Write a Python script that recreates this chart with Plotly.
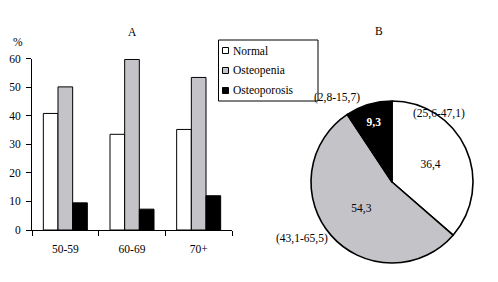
import plotly.graph_objects as go

# ---- data ----
age_groups = ["50-59", "60-69", "70+"]
series_names = ["Normal", "Osteopenia", "Osteoporosis"]
normal = [40.8, 33.5, 35.2]
osteopenia = [50.1, 59.7, 53.4]
osteoporosis = [9.5, 7.3, 12.0]

pie_values = [36.4, 54.3, 9.3]
pie_text = ["36,4", "54,3", "<b>9,3</b>"]
pie_ci = ["(25,6-47,1)", "(43,1-65,5)", "(2,8-15,7)"]

FONT = "Liberation Serif"
FS = 11.5
GREY = "#c4c3c8"
colors = ["white", GREY, "black"]
W, H = 498, 282


def px(x):
    return x / W


def py(y):
    return 1 - y / H


fig = go.Figure()
for name, vals, col in zip(series_names, [normal, osteopenia, osteoporosis], colors):
    fig.add_trace(go.Bar(x=age_groups, y=vals, name=name,
                         marker=dict(color=col, line=dict(color="black", width=1)),
                         showlegend=False, xaxis="x", yaxis="y"))

fig.add_trace(go.Pie(labels=series_names, values=pie_values, text=pie_text,
                     textinfo="text", texttemplate="%{text}",
                     textposition="inside", insidetextorientation="horizontal",
                     textfont=dict(color=["black", "black", "white"], size=FS, family=FONT),
                     marker=dict(colors=colors, line=dict(color="black", width=1.6)),
                     sort=False, direction="clockwise", rotation=0,
                     showlegend=False, hoverinfo="skip",
                     domain=dict(x=[px(311), px(473)], y=[py(263), py(101)])))

annotations = []
shapes = []
# CI annotations around the pie
ci_pos = [(467, 113), (302, 247), (362, 97)]
for t, (x, y) in zip(pie_ci, ci_pos):
    annotations.append(dict(text=t, x=px(x), y=py(y), xref="paper", yref="paper",
                            showarrow=False, font=dict(size=FS, family=FONT, color="black")))
for t, (x, y) in [("A", (126, 24)), ("B", (385, 23)), ("%", (11, 34))]:
    annotations.append(dict(text=t, x=px(x), y=py(y), xref="paper", yref="paper",
                            showarrow=False, font=dict(size=FS, family=FONT, color="black")))

# legend (box, keys, labels)
shapes.append(dict(type="rect", xref="paper", yref="paper",
                   x0=px(218.5), x1=px(318), y0=py(40), y1=py(101),
                   line=dict(color="black", width=1), fillcolor="white", layer="above"))
for i, (name, col) in enumerate(zip(series_names, colors)):
    yc = 50.5 + 20 * i
    shapes.append(dict(type="rect", xref="paper", yref="paper",
                       x0=px(222.5), x1=px(228.5), y0=py(yc - 3), y1=py(yc + 3),
                       line=dict(color="black", width=1), fillcolor=col, layer="above"))
    annotations.append(dict(text=name, x=px(230.5), y=py(yc), xref="paper", yref="paper",
                            xanchor="left", yanchor="middle", showarrow=False,
                            font=dict(size=11.5, family=FONT, color="black")))

fig.update_layout(
    width=W, height=H,
    margin=dict(l=0, r=0, t=0, b=0, pad=0, autoexpand=False),
    paper_bgcolor="white", plot_bgcolor="white",
    font=dict(family=FONT, size=FS, color="black"),
    barmode="group", bargap=0.34, bargroupgap=0,
    showlegend=False,
    xaxis=dict(domain=[px(32), px(232)], showline=True, linecolor="black", linewidth=1,
               ticks="outside", tickson="boundaries", ticklen=5, tickcolor="black",
               ticklabelstandoff=8, showgrid=False, automargin=False, fixedrange=True),
    yaxis=dict(domain=[py(230), py(58.6)], range=[0, 60], dtick=10,
               showline=True, linecolor="black", linewidth=1,
               ticks="outside", ticklen=5, tickcolor="black", showgrid=False,
               zeroline=False, ticklabelstandoff=3, automargin=False, fixedrange=True),
    annotations=annotations,
    shapes=shapes,
)

fig.write_html("out.html", config={"displayModeBar": False},
               post_script="document.body.style.margin='0';document.body.style.padding='0';")
